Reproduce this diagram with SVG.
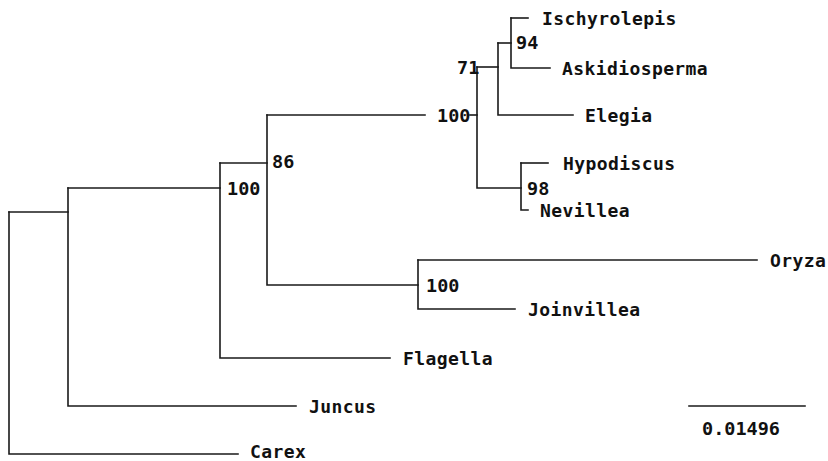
<svg xmlns="http://www.w3.org/2000/svg" width="828" height="461" viewBox="0 0 828 461">
<style>
.br{fill:none;stroke:#1a1a1a;stroke-width:1.6;stroke-linecap:square}
.tx{font-family:"DejaVu Sans Mono","Liberation Mono",monospace;font-size:18px;font-weight:bold;fill:#111;letter-spacing:0.4px}
.sv{font-family:"DejaVu Sans Mono","Liberation Mono",monospace;font-size:18.5px;font-weight:bold;fill:#111;letter-spacing:0px}
</style>
<rect width="828" height="461" fill="#fff"/>
<g id="connectors">
<path class="br" d="M9,212 V454 H238"/>
<path class="br" d="M9,212 H68"/>
<path class="br" d="M68,188 V406 H296"/>
<path class="br" d="M68,188 H220"/>
<path class="br" d="M220,163 V358 H390"/>
<path class="br" d="M220,163 H267"/>
<path class="br" d="M267,115 V285 H418"/>
<path class="br" d="M267,115 H425"/>
<path class="br" d="M470,115 H477"/>
<path class="br" d="M418,260 V309 H515"/>
<path class="br" d="M418,260 H757"/>
<path class="br" d="M477,67 V188 H521"/>
<path class="br" d="M477,67 H498"/>
<path class="br" d="M498,43 V115 H573"/>
<path class="br" d="M498,43 H511"/>
<path class="br" d="M511,18 V68 H550"/>
<path class="br" d="M511,18 H528"/>
<path class="br" d="M521,163 V210 H528"/>
<path class="br" d="M521,163 H548"/>
<path class="br" d="M689,406 H805"/>
</g>
<g id="n100a"><text class="sv" x="227" y="195">100</text></g>
<g id="n86"><text class="sv" x="272" y="168">86</text></g>
<g id="n100b"><text class="sv" x="437" y="122">100</text></g>
<g id="n71"><text class="sv" x="457" y="74">71</text></g>
<g id="n94"><text class="sv" x="516" y="49">94</text></g>
<g id="n98"><text class="sv" x="527" y="195">98</text></g>
<g id="n100c"><text class="sv" x="426" y="292">100</text></g>
<g id="t_ischyrolepis"><text class="tx" x="542" y="25">Ischyrolepis</text></g>
<g id="t_askidiosperma"><text class="tx" x="562" y="75">Askidiosperma</text></g>
<g id="t_elegia"><text class="tx" x="585" y="122">Elegia</text></g>
<g id="t_hypodiscus"><text class="tx" x="563" y="170">Hypodiscus</text></g>
<g id="t_nevillea"><text class="tx" x="540" y="217">Nevillea</text></g>
<g id="t_oryza"><text class="tx" x="770" y="267">Oryza</text></g>
<g id="t_joinvillea"><text class="tx" x="528" y="316">Joinvillea</text></g>
<g id="t_flagella"><text class="tx" x="403" y="365">Flagella</text></g>
<g id="t_juncus"><text class="tx" x="309" y="413">Juncus</text></g>
<g id="t_carex"><text class="tx" x="250" y="458">Carex</text></g>
<g id="scale"><text class="sv" x="702" y="435">0.01496</text></g>
</svg>
